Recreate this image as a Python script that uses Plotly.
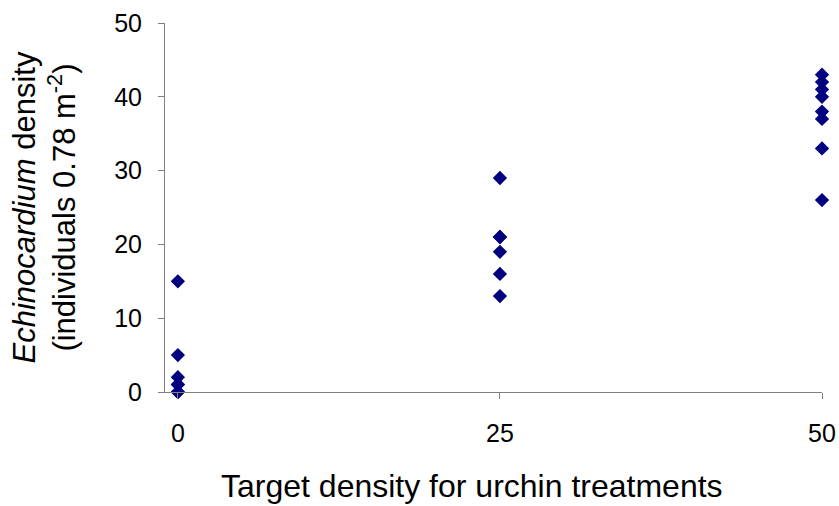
import plotly.graph_objects as go

# Target urchin density per treatment and the Echinocardium counts observed
treatment = [0, 0, 0, 0, 0, 0, 0,
             25, 25, 25, 25, 25, 25,
             50, 50, 50, 50, 50, 50, 50, 50]
echinocardium = [15, 5, 2, 1, 1, 0, 0,
                 29, 21, 21, 19, 16, 13,
                 43, 42, 41, 40, 38, 37, 33, 26]

x_ticks = [0, 25, 50]
y_ticks = [0, 10, 20, 30, 40, 50]

FONT = "Liberation Sans, Arial, sans-serif"
AXIS_GREY = "#808080"

fig = go.Figure(
    go.Scatter(
        x=treatment,
        y=echinocardium,
        mode="markers",
        marker=dict(symbol="diamond", size=11, color="#000080",
                    line=dict(width=0)),
        cliponaxis=False,
        hoverinfo="x+y",
    )
)

fig.update_xaxes(
    range=[-1, 50],
    tickvals=x_ticks,
    ticktext=[str(v) for v in x_ticks],
    automargin=False,
    showgrid=False,
    zeroline=False,
    showline=True,
    linecolor=AXIS_GREY,
    linewidth=1,
    ticks="outside",
    ticklen=6,
    tickcolor=AXIS_GREY,
    ticklabelstandoff=13,
    tickfont=dict(family=FONT, size=25, color="black"),
)
fig.update_yaxes(
    range=[0, 50],
    tickvals=y_ticks,
    automargin=False,
    showgrid=False,
    zeroline=False,
    showline=True,
    linecolor=AXIS_GREY,
    linewidth=1,
    ticks="outside",
    ticklen=6,
    tickcolor=AXIS_GREY,
    ticklabelstandoff=11,
    tickfont=dict(family=FONT, size=25, color="black"),
)

fig.add_annotation(
    text="Target density for urchin treatments",
    xref="paper", yref="paper", x=0.467, y=0, yshift=-94,
    xanchor="center", yanchor="middle", showarrow=False,
    font=dict(family=FONT, size=32, color="black"),
)
fig.add_annotation(
    text="<i>Echinocardium</i> density<br>(individuals 0.78 m<sup>-2</sup>)",
    xref="paper", yref="paper", x=0, xshift=-121, y=0.5, yshift=0,
    xanchor="center", yanchor="middle", textangle=-90, showarrow=False,
    font=dict(family=FONT, size=31, color="black"),
)

fig.update_layout(
    width=839, height=506,
    margin=dict(l=165, r=17, t=23, b=114),
    paper_bgcolor="white",
    plot_bgcolor="white",
    showlegend=False,
)

fig.write_html("out.html")
